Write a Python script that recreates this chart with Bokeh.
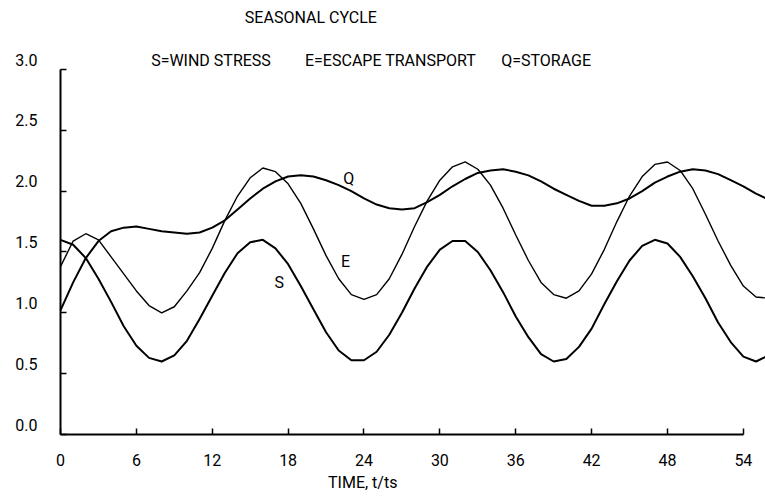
from bokeh.plotting import figure
from bokeh.models import (ColumnDataSource, Range1d, FixedTicker, Label,
                          LinearAxis)
from bokeh.embed import file_html
from bokeh.resources import INLINE

# ---- data ----
time = list(range(0, 57))
stress = [1.60, 1.56, 1.45, 1.28, 1.09, 0.89, 0.73, 0.63, 0.60, 0.65,
          0.77, 0.95, 1.14, 1.33, 1.49, 1.58, 1.60, 1.53, 1.40, 1.22,
          1.03, 0.84, 0.69, 0.61, 0.61, 0.68, 0.82, 1.00, 1.20, 1.38,
          1.52, 1.59, 1.59, 1.50, 1.35, 1.17, 0.97, 0.80, 0.66, 0.60,
          0.62, 0.72, 0.87, 1.07, 1.26, 1.43, 1.55, 1.60, 1.57, 1.46,
          1.30, 1.12, 0.92, 0.76, 0.64, 0.60, 0.65]
escape = [1.38, 1.59, 1.65, 1.60, 1.46, 1.32, 1.18, 1.06, 1.00, 1.05,
          1.18, 1.33, 1.53, 1.76, 1.96, 2.11, 2.19, 2.16, 2.06, 1.90,
          1.69, 1.47, 1.28, 1.15, 1.11, 1.15, 1.28, 1.48, 1.71, 1.92,
          2.09, 2.20, 2.24, 2.18, 2.05, 1.86, 1.64, 1.43, 1.25, 1.15,
          1.12, 1.18, 1.32, 1.52, 1.75, 1.96, 2.12, 2.22, 2.24, 2.17,
          2.02, 1.81, 1.59, 1.39, 1.22, 1.13, 1.12]
storage = [1.02, 1.25, 1.45, 1.59, 1.67, 1.70, 1.71, 1.69, 1.67, 1.66,
           1.65, 1.66, 1.70, 1.76, 1.85, 1.94, 2.02, 2.08, 2.12, 2.13,
           2.12, 2.09, 2.05, 2.00, 1.94, 1.89, 1.86, 1.85, 1.86, 1.91,
           1.97, 2.04, 2.10, 2.15, 2.17, 2.18, 2.16, 2.13, 2.08, 2.02,
           1.97, 1.92, 1.88, 1.88, 1.90, 1.94, 2.00, 2.07, 2.12, 2.16,
           2.18, 2.17, 2.14, 2.09, 2.04, 1.98, 1.93]

x_ticks = [0, 6, 12, 18, 24, 30, 36, 42, 48, 54]
y_ticks = [0.0, 0.5, 1.0, 1.5, 2.0, 2.5, 3.0]
y_tick_labels = ["0.0", "0.5", "1.0", "1.5", "2.0", "2.5", "3.0"]

title_text = "SEASONAL CYCLE"
legend_parts = ["S=WIND STRESS", "E=ESCAPE TRANSPORT", "Q=STORAGE"]
curve_names = ["S", "E", "Q"]
x_label = "TIME, t/ts"

# ---- styling / layout ----
FONT = "Roboto"
FS = "16px"
INK = "black"

Y0, Y1 = -0.526, 3.567          # frame covers the whole canvas
LABEL_SHIFT = 0.082             # y labels sit ~10 px above their ticks

p = figure(width=765, height=498, output_backend="svg", toolbar_location=None,
           x_range=Range1d(-4.745, 55.75), y_range=Range1d(Y0, Y1),
           min_border_left=0, min_border_right=0, min_border_top=0,
           min_border_bottom=0, background_fill_color="white",
           border_fill_color="white")
p.outline_line_color = None
p.grid.visible = False
p.extra_y_ranges = {"labels": Range1d(Y0 - LABEL_SHIFT, Y1 - LABEL_SHIFT)}

src = ColumnDataSource(dict(t=time, s=stress, e=escape, q=storage))
p.line("t", "q", source=src, line_color=INK, line_width=2.0)
p.line("t", "e", source=src, line_color=INK, line_width=1.4)
p.line("t", "s", source=src, line_color=INK, line_width=2.0)

# x axis, pinned at y = 0
xa = p.xaxis[0]
xa.fixed_location = 0
xa.ticker = FixedTicker(ticks=x_ticks)
xa.bounds = (0, 54)
xa.axis_line_width = 2
xa.axis_line_color = INK
xa.major_tick_in = 6
xa.major_tick_out = 0
xa.major_tick_line_width = 1.5
xa.major_tick_line_color = INK
xa.minor_tick_line_color = None
xa.major_label_standoff = 19
xa.major_label_text_font = FONT
xa.major_label_text_font_size = FS
xa.major_label_text_color = INK

# y axis (line + ticks), pinned at x = 0
ya = p.yaxis[0]
ya.fixed_location = 0
ya.ticker = FixedTicker(ticks=y_ticks)
ya.bounds = (0, 3.0)
ya.axis_line_width = 2
ya.axis_line_color = INK
ya.major_tick_in = 6
ya.major_tick_out = 0
ya.major_tick_line_width = 1.5
ya.major_tick_line_color = INK
ya.minor_tick_line_color = None
ya.major_label_text_color = None

# y tick labels: a second left axis on a range shifted so labels sit above ticks
yl = LinearAxis(y_range_name="labels", fixed_location=0,
                ticker=FixedTicker(ticks=y_ticks),
                major_label_overrides={v: s for v, s in zip(y_ticks, y_tick_labels)})
yl.axis_line_color = None
yl.major_tick_line_color = None
yl.minor_tick_line_color = None
yl.major_tick_in = 0
yl.major_tick_out = 0
yl.major_label_standoff = 23
yl.major_label_text_font = FONT
yl.major_label_text_font_size = FS
yl.major_label_text_color = INK
p.add_layout(yl, "left")

# titles
p.add_layout(Label(x=19.8, y=3.427, text=title_text, text_align="center",
                   text_baseline="middle", text_font=FONT, text_font_size=FS,
                   text_color=INK))
for xc, txt in zip([11.9, 26.1, 38.4], legend_parts):
    p.add_layout(Label(x=xc, y=3.074, text=txt, text_align="center",
                       text_baseline="middle", text_font=FONT,
                       text_font_size=FS, text_color=INK))

# axis title
p.add_layout(Label(x=23.9, y=-0.395, text=x_label, text_align="center",
                   text_baseline="middle", text_font=FONT, text_font_size=FS,
                   text_color=INK))

# curve labels
for (cx, cy), name in zip([(17.3, 1.25), (22.55, 1.42), (22.8, 2.10)], curve_names):
    p.add_layout(Label(x=cx, y=cy, text=name, text_align="center",
                       text_baseline="middle", text_font=FONT,
                       text_font_size=FS, text_color=INK))

open("out.html", "w").write(file_html(p, INLINE))
